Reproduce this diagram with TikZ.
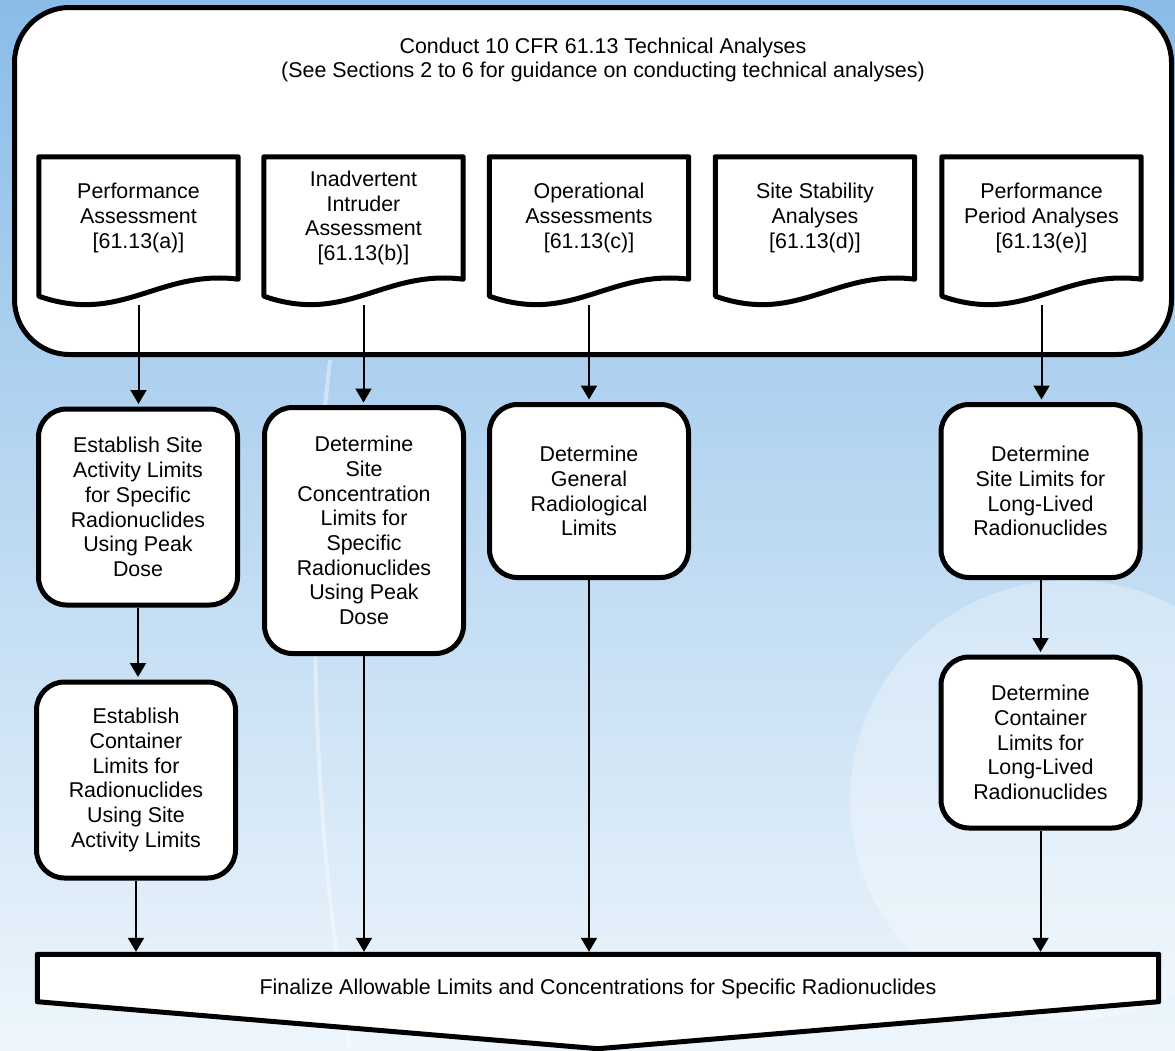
\documentclass[tikz,border=0pt]{standalone}
\usepackage{fontspec}
\setmainfont{Liberation Sans}
\usetikzlibrary{arrows.meta,positioning}
\definecolor{bgtop}{RGB}{138,188,232}
\definecolor{bgmid}{RGB}{200,226,246}
\definecolor{bgbot}{RGB}{238,246,252}
\pgfdeclarelayer{behind}
\pgfsetlayers{behind,main}

\begin{document}
\begin{tikzpicture}[x=1pt, y=-1pt,
    every node/.style={font=\fontsize{21.4}{24.7}\selectfont, align=center, inner sep=0pt},
    frame/.style={draw, line width=5pt, rounded corners=55pt, fill=white},
    doc/.style={minimum width=199pt, minimum height=122pt},
    docline/.style={line width=5pt, line join=round},
    stepbox/.style={draw, line width=5pt, rounded corners=28pt, fill=white, minimum width=199pt},
    flow/.style={-{Triangle[length=14pt,width=16pt]}, line width=2pt, shorten >=2.5pt}]

        \useasboundingbox (0,0) rectangle (1175,1050);
        \clip (0,0) rectangle (1175,1050);
        \begin{pgfonlayer}{behind}
        \shade[top color=bgtop, middle color=bgmid, bottom color=bgbot] (0,0) rectangle (1175,1050);
        \draw[white, opacity=.4, line width=4pt] (330,360) .. controls (300,620) and (320,860) .. (350,1050);
        \fill[white, opacity=.3] (1070,800) circle (220);
        \end{pgfonlayer}

        \node[frame, minimum width=1157pt, minimum height=347pt] (tech) at (593,181) {};
        \node (title) at (603,60) {Conduct 10 CFR 61.13 Technical Analyses\\(See Sections 2 to 6 for guidance on conducting technical analyses)};

        \node[doc] (pa) at (138.5,218) {Performance\\Assessment\\{[61.13(a)]}};
        \node[doc] (ii) at (363.5,218) {Inadvertent\\Intruder\\Assessment\\{[61.13(b)]}};
        \node[doc] (oa) at (589,218) {Operational\\Assessments\\{[61.13(c)]}};
        \node[doc] (ss) at (815,218) {Site Stability\\Analyses\\{[61.13(d)]}};
        \node[doc] (pp) at (1041.5,218) {Performance\\Period Analyses\\{[61.13(e)]}};
        \foreach \d in {pa,ii,oa,ss,pp} {
            \draw[docline] (\d.north west) -- (\d.north east) -- (\d.south east)
                .. controls +(-80,-10) and +(83,29) .. ([yshift=-17pt]\d.south west) -- cycle;
            \coordinate (\d-out) at ([yshift=-26pt]\d.south);
        }

        \node[stepbox, minimum height=196pt] (sitelim) at (138,507) {Establish Site\\Activity Limits\\for Specific\\Radionuclides\\Using Peak\\Dose};
        \node[stepbox, minimum height=246pt] (siteconc) at (364,530.5) {Determine\\Site\\Concentration\\Limits for\\Specific\\Radionuclides\\Using Peak\\Dose};
        \node[stepbox, minimum height=173pt] (genlim) at (589,491) {Determine\\General\\Radiological\\Limits};
        \node[stepbox, minimum height=173pt] (longsite) at (1040.5,491) {Determine\\Site Limits for\\Long-Lived\\Radionuclides};
        \node[stepbox, minimum height=196pt] (contlim) at (136,780) {Establish\\Container\\Limits for\\Radionuclides\\Using Site\\Activity Limits};
        \node[stepbox, minimum height=171pt] (longcont) at (1040.5,742.5) {Determine\\Container\\Limits for\\Long-Lived\\Radionuclides};

        \node[minimum width=1121pt, minimum height=69pt] (final) at (598,989) {Finalize Allowable Limits and Concentrations for Specific Radionuclides};
        \begin{pgfonlayer}{behind}
        \draw[docline, fill=white] (final.north west) -- (final.north east) -- ([yshift=22pt]final.south east)
            -- ([yshift=-25pt]final.south) -- ([yshift=22pt]final.south west) -- cycle;
        \end{pgfonlayer}

        \draw[flow] (pa-out) -- (pa-out |- sitelim.north);
        \draw[flow] (ii-out) -- (ii-out |- siteconc.north);
        \draw[flow] (oa-out) -- (oa-out |- genlim.north);
        \draw[flow] (pp-out) -- (pp-out |- longsite.north);
        \draw[flow] (sitelim.south) -- (sitelim.south |- contlim.north);
        \draw[flow] (longsite.south) -- (longcont.north);

        \draw[flow] (contlim.south) -- (contlim.south |- final.north);
        \draw[flow] (siteconc.south) -- (siteconc.south |- final.north);
        \draw[flow] (genlim.south) -- (genlim.south |- final.north);
        \draw[flow] (longcont.south) -- (longcont.south |- final.north);
\end{tikzpicture}
\end{document}
